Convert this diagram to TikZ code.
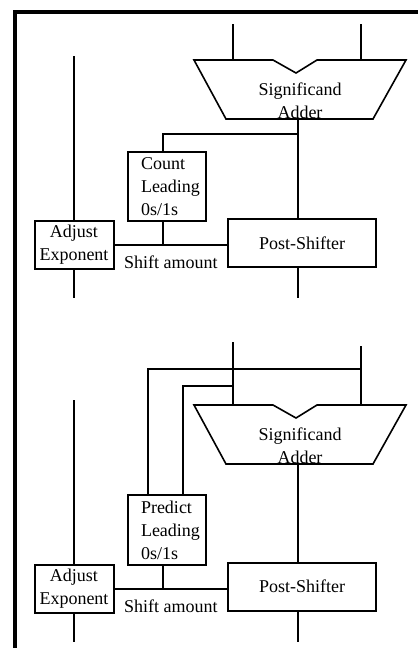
\documentclass[tikz,border=0pt]{standalone}
\usepackage{fontspec}
\setmainfont{Liberation Serif}
\usetikzlibrary{positioning}

\begin{document}
\begin{tikzpicture}[
  x=0.5pt, y=-0.5pt,
  every node/.style={font=\fontsize{9}{11.5}\selectfont, inner sep=0pt},
  blk/.style={rectangle, draw=black, line width=1pt, align=center},
  lzc/.style={blk, minimum width=39pt, text width=26pt, align=left},
  wire/.style={line width=1pt},
  alu/.style={line width=0.8pt, line join=miter},
  frame/.style={line width=2pt}
]
\useasboundingbox (0,0) rectangle (418,648);
\draw[frame] (15,648) -- (15,12) -- (418,12);

% upper: count after the add
\coordinate (a1in) at (233,24);
\coordinate (b1in) at (361,24);
\coordinate (a1) at (233,60);
\coordinate (b1) at (361,60);
\coordinate (s1) at (298,119);
\coordinate (j1) at (298,134);
\coordinate (c1) at (163,245);
\coordinate (e1) at (74,56);
\coordinate (e1o) at (74,298);
\coordinate (p1o) at (298,298);

\draw[alu] (194,60) -- (273,60) -- (296,73) -- (317,60) -- (406,60) -- (373,119) -- (226,119) -- cycle;
\node[align=center] (add1) at (300,101) {Significand\\Adder};
\node[lzc, minimum height=34.5pt] (cnt1) at (167,186.5) {Count\\Leading\\0s/1s};
\node[blk, minimum width=39.5pt, minimum height=24pt] (adj1) at (74,245) {Adjust\\Exponent};
\node[blk, minimum width=74pt, minimum height=24pt] (ps1) at (302,243) {Post-Shifter};

\draw[wire] (a1in) -- (a1);
\draw[wire] (b1in) -- (b1);
\draw[wire] (s1) -- (s1 |- ps1.north);
\draw[wire] (j1) -| (cnt1.north -| c1);
\draw[wire] (cnt1.south -| c1) -- (c1);
\draw[wire] (adj1.east) -- node[below=5pt] (sa1) {Shift amount} (adj1.east -| ps1.west);
\draw[wire] (e1) -- (adj1.north);
\draw[wire] (adj1.south) -- (e1o);
\draw[wire] (ps1.south -| p1o) -- (p1o);

% lower: predict from the adder inputs
\coordinate (a2in) at (233,342);
\coordinate (b2in) at (361,346);
\coordinate (a2) at (233,405);
\coordinate (b2) at (361,405);
\coordinate (tapa) at (233,386);
\coordinate (tapb) at (361,369);
\coordinate (s2) at (298,464);
\coordinate (c2) at (163,588);
\coordinate (e2) at (74,400);
\coordinate (e2o) at (74,642);
\coordinate (p2o) at (298,642);

\draw[alu] (194,405) -- (273,405) -- (296,418) -- (317,405) -- (406,405) -- (373,464) -- (226,464) -- cycle;
\node[align=center] (add2) at (300,445.5) {Significand\\Adder};
\node[lzc, minimum height=35pt] (pr2) at (167,530) {Predict\\Leading\\0s/1s};
\node[blk, minimum width=39.5pt, minimum height=24pt] (adj2) at (74,589) {Adjust\\Exponent};
\node[blk, minimum width=74pt, minimum height=24pt] (ps2) at (302,586.5) {Post-Shifter};

\draw[wire] (a2in) -- (a2);
\draw[wire] (b2in) -- (b2);
\draw[wire] (tapb) -| ([xshift=-9.5pt]pr2.north);
\draw[wire] (tapa) -| ([xshift=8pt]pr2.north);
\draw[wire] (s2) -- (s2 |- ps2.north);
\draw[wire] (pr2.south -| c2) -- (c2);
\draw[wire] (adj2.east) -- node[below=5pt] (sa2) {Shift amount} (adj2.east -| ps2.west);
\draw[wire] (e2) -- (adj2.north);
\draw[wire] (adj2.south) -- (e2o);
\draw[wire] (ps2.south -| p2o) -- (p2o);
\end{tikzpicture}
\end{document}
